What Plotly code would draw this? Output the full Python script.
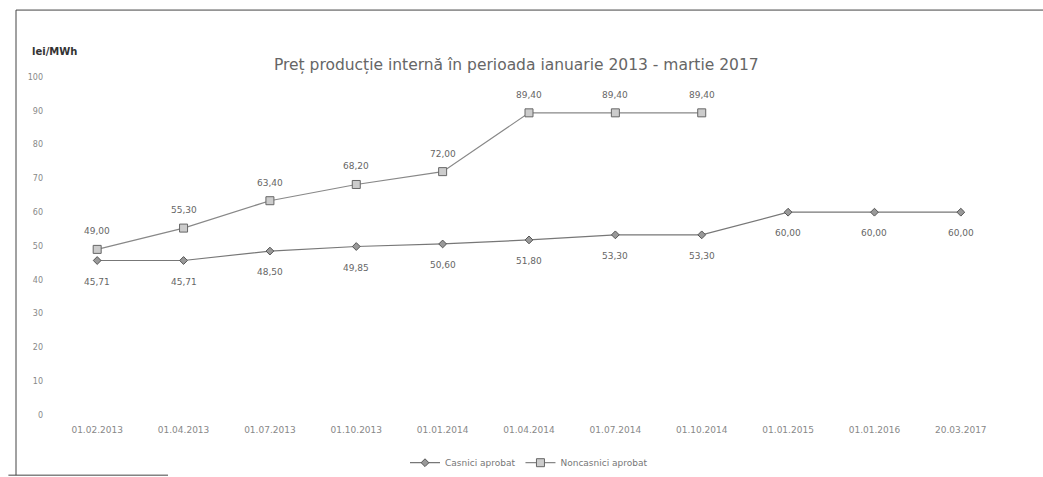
import plotly.graph_objects as go

categories = ["01.02.2013", "01.04.2013", "01.07.2013", "01.10.2013", "01.01.2014",
              "01.04.2014", "01.07.2014", "01.10.2014", "01.01.2015", "01.01.2016", "20.03.2017"]
casnici = [45.71, 45.71, 48.50, 49.85, 50.60, 51.80, 53.30, 53.30, 60.00, 60.00, 60.00]
noncasnici = [49.00, 55.30, 63.40, 68.20, 72.00, 89.40, 89.40, 89.40, None, None, None]
y_ticks = [0, 10, 20, 30, 40, 50, 60, 70, 80, 90, 100]

def fmt(v):
    return f"{v:.2f}".replace(".", ",")

fig = go.Figure()
fig.add_trace(go.Scatter(
    x=categories, y=casnici, name="Casnici aprobat",
    mode="lines+markers",
    line=dict(color="#777777", width=1.2),
    marker=dict(symbol="diamond", size=6, color="#999999", line=dict(color="#555555", width=1)),
))
fig.add_trace(go.Scatter(
    x=categories, y=noncasnici, name="Noncasnici aprobat",
    mode="lines+markers",
    line=dict(color="#888888", width=1.2),
    marker=dict(symbol="square", size=8, color="#cccccc", line=dict(color="#666666", width=1)),
))

label_font = dict(family="DejaVu Sans", size=9, color="#666666")
annotations = []
for c, v in zip(categories, casnici):
    annotations.append(dict(x=c, y=v, xref="x", yref="y", text=fmt(v), showarrow=False,
                            yshift=-21, font=label_font))
for c, v in zip(categories, noncasnici):
    if v is not None:
        annotations.append(dict(x=c, y=v, xref="x", yref="y", text=fmt(v), showarrow=False,
                                yshift=18, font=label_font))
annotations.append(dict(text="<b>lei/MWh</b>", xref="paper", yref="paper",
                        x=-0.025, y=1.075, xanchor="left", yanchor="middle", showarrow=False,
                        font=dict(family="DejaVu Sans", size=10, color="#333333")))

fig.update_layout(
    width=1043, height=477,
    margin=dict(l=54, r=39, t=77, b=62, autoexpand=False),
    paper_bgcolor="white", plot_bgcolor="white",
    showlegend=True,
    legend=dict(orientation="h", x=0.5, xanchor="center", yref="container", y=0.03, yanchor="middle",
                font=dict(family="DejaVu Sans", size=9, color="#777777")),
    title=dict(text="Preț producție internă în perioada ianuarie 2013 - martie 2017",
               x=0.495, xanchor="center", y=0.865, yanchor="middle",
               font=dict(family="DejaVu Sans", size=15.5, color="#666666")),
    xaxis=dict(type="category", range=[-0.5, 10.5], showgrid=False, showline=False,
               zeroline=False, ticks="", ticklabelstandoff=8,
               tickfont=dict(family="DejaVu Sans", size=9, color="#888888")),
    yaxis=dict(range=[0, 100], tickvals=y_ticks, showgrid=False, showline=False,
               zeroline=False, ticks="", ticklabelstandoff=10,
               tickfont=dict(family="DejaVu Sans", size=8, color="#888888")),
    annotations=annotations,
    shapes=[
        dict(type="line", xref="paper", yref="paper", x0=-0.04, x1=1.05, y0=1.198, y1=1.198,
             line=dict(color="#444444", width=1)),
        dict(type="line", xref="paper", yref="paper", x0=-0.04, x1=-0.04, y0=1.198, y1=-0.178,
             line=dict(color="#444444", width=1)),
        dict(type="line", xref="paper", yref="paper", x0=-0.048, x1=0.12, y0=-0.178, y1=-0.178,
             line=dict(color="#444444", width=1)),
    ],
)

fig.write_html("out.html")
